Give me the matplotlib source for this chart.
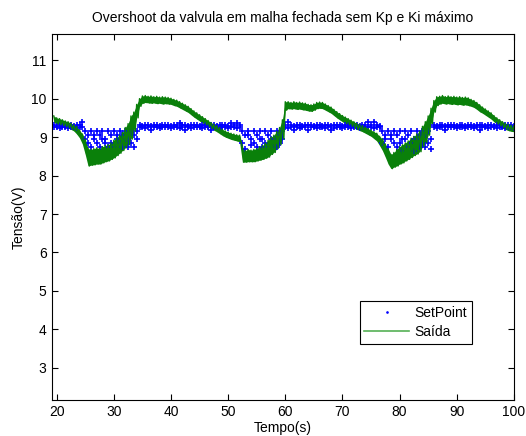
import matplotlib
matplotlib.use('Agg')
import matplotlib.pyplot as plt
from matplotlib.lines import Line2D
import numpy as np

# sample clock of the acquisition, 0.5 s per sample (19.5 s .. 100 s)
tempo = np.arange(19.5, 100.01, 0.5)

# Saida: upper and lower edge of the noisy output band, read per sample
saida_hi = [
    9.55, 9.50, 9.48, 9.45, 9.42, 9.40, 9.36, 9.32, 9.28, 9.18,
    9.08, 8.95, 8.70, 8.68, 8.70, 8.72, 8.70, 8.75, 8.78, 8.80,
    8.85, 8.92, 8.98, 9.05, 9.12, 9.25, 9.35, 9.55, 9.65, 9.85,
    10.00, 10.07, 10.08, 10.06, 10.07, 10.05, 10.06, 10.04, 10.05, 10.04,
    10.03, 10.01, 9.98, 9.96, 9.92, 9.88, 9.84, 9.80, 9.74, 9.68,
    9.63, 9.58, 9.53, 9.48, 9.43, 9.38, 9.34, 9.30, 9.25, 9.20,
    9.16, 9.13, 9.10, 9.08, 9.06, 9.05, 8.75, 8.65, 8.68, 8.66,
    8.68, 8.70, 8.75, 8.78, 8.85, 8.92, 9.00, 9.05, 9.15, 9.25,
    9.45, 9.92, 9.92, 9.90, 9.92, 9.90, 9.91, 9.89, 9.88, 9.85,
    9.84, 9.86, 9.90, 9.91, 9.90, 9.86, 9.82, 9.78, 9.72, 9.66,
    9.61, 9.56, 9.52, 9.48, 9.44, 9.40, 9.36, 9.33, 9.30, 9.26,
    9.22, 9.18, 9.14, 9.10, 9.02, 8.95, 8.82, 8.70, 8.55, 8.60,
    8.68, 8.75, 8.80, 8.85, 8.90, 8.97, 9.02, 9.08, 9.15, 9.28,
    9.40, 9.55, 9.75, 9.95, 10.05, 10.06, 10.08, 10.05, 10.07, 10.05,
    10.06, 10.04, 10.05, 10.03, 10.04, 10.02, 9.98, 9.95, 9.90, 9.84,
    9.78, 9.73, 9.68, 9.63, 9.56, 9.50, 9.45, 9.40, 9.36, 9.33,
    9.31, 9.30,
]
saida_lo = [
    9.38, 9.34, 9.32, 9.30, 9.27, 9.24, 9.20, 9.16, 9.08, 8.98,
    8.82, 8.55, 8.25, 8.27, 8.28, 8.30, 8.30, 8.33, 8.36, 8.38,
    8.42, 8.46, 8.52, 8.58, 8.65, 8.72, 8.80, 8.95, 9.15, 9.50,
    9.80, 9.88, 9.90, 9.89, 9.88, 9.89, 9.87, 9.88, 9.86, 9.87,
    9.86, 9.85, 9.82, 9.80, 9.76, 9.72, 9.68, 9.64, 9.58, 9.52,
    9.47, 9.42, 9.37, 9.32, 9.27, 9.22, 9.18, 9.14, 9.09, 9.04,
    9.00, 8.97, 8.94, 8.92, 8.90, 8.88, 8.35, 8.35, 8.36, 8.36,
    8.36, 8.38, 8.40, 8.42, 8.45, 8.48, 8.55, 8.60, 8.70, 8.80,
    8.95, 9.70, 9.74, 9.73, 9.74, 9.72, 9.73, 9.71, 9.70, 9.68,
    9.67, 9.70, 9.74, 9.75, 9.74, 9.70, 9.66, 9.62, 9.56, 9.50,
    9.45, 9.40, 9.36, 9.32, 9.28, 9.24, 9.20, 9.17, 9.14, 9.10,
    9.06, 9.02, 8.96, 8.90, 8.78, 8.65, 8.48, 8.30, 8.18, 8.22,
    8.25, 8.30, 8.33, 8.38, 8.42, 8.47, 8.52, 8.56, 8.62, 8.75,
    8.85, 9.05, 9.35, 9.65, 9.82, 9.86, 9.88, 9.86, 9.87, 9.85,
    9.86, 9.84, 9.85, 9.83, 9.84, 9.82, 9.80, 9.77, 9.72, 9.66,
    9.62, 9.57, 9.52, 9.47, 9.40, 9.34, 9.29, 9.24, 9.20, 9.17,
    9.15, 9.14,
]

# SetPoint: two readings per sample (quantized signal)
setpoint_a = [
    9.31, 9.30, 9.31, 9.31, 9.30, 9.31, 9.31, 9.30, 9.31, 9.31,
    9.38, 9.15, 9.05, 9.15, 8.95, 9.15, 9.05, 9.15, 8.95, 9.15,
    9.05, 9.15, 8.95, 9.15, 9.05, 9.15, 8.95, 9.15, 9.05, 9.15,
    9.31, 9.30, 9.31, 9.31, 9.30, 9.31, 9.31, 9.30, 9.31, 9.31,
    9.31, 9.30, 9.31, 9.31, 9.36, 9.31, 9.31, 9.30, 9.31, 9.31,
    9.31, 9.30, 9.31, 9.31, 9.30, 9.31, 9.31, 9.30, 9.31, 9.31,
    9.31, 9.30, 9.37, 9.31, 9.37, 9.31, 9.15, 9.05, 9.15, 8.95,
    9.15, 9.05, 9.15, 8.95, 9.15, 9.05, 9.15, 8.95, 9.15, 9.05,
    9.15, 9.31, 9.38, 9.31, 9.30, 9.31, 9.31, 9.30, 9.31, 9.31,
    9.31, 9.30, 9.31, 9.31, 9.30, 9.31, 9.31, 9.30, 9.31, 9.31,
    9.31, 9.30, 9.31, 9.31, 9.30, 9.31, 9.31, 9.30, 9.31, 9.31,
    9.38, 9.31, 9.38, 9.31, 9.30, 9.15, 9.05, 9.15, 8.95, 9.15,
    9.05, 9.15, 8.95, 9.15, 9.05, 9.15, 8.95, 9.15, 9.05, 9.15,
    9.05, 9.15, 8.95, 9.31, 9.30, 9.31, 9.31, 9.30, 9.31, 9.31,
    9.31, 9.30, 9.31, 9.31, 9.30, 9.31, 9.31, 9.30, 9.31, 9.31,
    9.31, 9.30, 9.31, 9.31, 9.30, 9.31, 9.31, 9.30, 9.31, 9.31,
    9.31, 9.30,
]
setpoint_b = [
    9.25, 9.25, 9.24, 9.25, 9.25, 9.24, 9.25, 9.25, 9.24, 9.25,
    9.25, 8.95, 8.85, 8.75, 9.05, 8.85, 8.75, 8.95, 8.85, 8.75,
    8.85, 8.75, 9.05, 8.85, 8.75, 8.95, 8.75, 8.85, 8.75, 8.95,
    9.25, 9.25, 9.24, 9.25, 9.18, 9.25, 9.25, 9.24, 9.25, 9.25,
    9.25, 9.24, 9.25, 9.25, 9.24, 9.25, 9.18, 9.25, 9.24, 9.25,
    9.25, 9.25, 9.24, 9.25, 9.25, 9.18, 9.25, 9.25, 9.24, 9.25,
    9.25, 9.24, 9.25, 9.25, 9.24, 9.25, 8.85, 8.70, 9.05, 8.80,
    8.85, 8.75, 8.95, 8.75, 8.85, 8.75, 8.95, 8.80, 8.75, 8.85,
    8.95, 9.25, 9.24, 9.25, 9.18, 9.25, 9.24, 9.25, 9.25, 9.18,
    9.25, 9.25, 9.24, 9.25, 9.25, 9.24, 9.25, 9.18, 9.24, 9.25,
    9.25, 9.24, 9.25, 9.25, 9.24, 9.25, 9.25, 9.24, 9.25, 9.25,
    9.25, 9.25, 9.24, 9.25, 9.25, 8.85, 8.95, 8.75, 9.05, 8.85,
    8.75, 8.85, 8.65, 8.95, 8.75, 8.85, 8.65, 8.95, 8.75, 8.85,
    8.75, 8.85, 8.70, 9.25, 9.24, 9.25, 9.25, 9.18, 9.25, 9.25,
    9.25, 9.24, 9.25, 9.25, 9.24, 9.25, 9.25, 9.24, 9.25, 9.18,
    9.25, 9.25, 9.24, 9.25, 9.25, 9.24, 9.25, 9.25, 9.24, 9.25,
    9.25, 9.24,
]

x_ticks = [20, 30, 40, 50, 60, 70, 80, 90, 100]
y_ticks = [3, 4, 5, 6, 7, 8, 9, 10, 11]

SP_COLOR = '#0000ff'
OUT_COLOR = '#0a800a'

plt.rcParams['font.family'] = ['Liberation Sans', 'DejaVu Sans']
plt.rcParams['font.size'] = 10

fig = plt.figure(figsize=(5.26, 4.36), dpi=100)
ax = fig.add_axes([0.099, 0.083, 0.878, 0.839])

# setpoint samples as small plus markers
for sp in (setpoint_a, setpoint_b):
    ax.plot(tempo, sp, linestyle='none', marker='+', markersize=4.5,
            markeredgewidth=1.2, color=SP_COLOR)

# noisy output: solid band between the edges, plus a trace that goes
# up to the top edge and down to the bottom edge for the ragged look
ax.fill_between(tempo, saida_lo, saida_hi, color=OUT_COLOR, linewidth=0)
t_out = np.ravel(np.column_stack([tempo, tempo + 0.25]))
v_out = np.ravel(np.column_stack([saida_hi, saida_lo]))
ax.plot(t_out, v_out, color=OUT_COLOR, linewidth=1.0)

ax.set_xlim(19.2, 100)
ax.set_ylim(2.17, 11.68)
ax.set_xticks(x_ticks)
ax.set_yticks(y_ticks)
ax.tick_params(direction='in', length=4, width=0.8, top=True, right=True,
               labelsize=10, colors='black', pad=4)
for spine in ax.spines.values():
    spine.set_linewidth(0.8)

ax.set_title('Overshoot da valvula em malha fechada sem Kp e Ki máximo', fontsize=10, pad=9)
ax.set_xlabel('Tempo(s)', fontsize=10, labelpad=1)
ax.set_ylabel('Tensão(V)', fontsize=10, labelpad=4)

handles = [
    Line2D([], [], linestyle='none', marker='.', markersize=1.8, color=SP_COLOR),
    Line2D([], [], color='#55b055', linewidth=1.2),
]
leg = ax.legend(handles, ['SetPoint', 'Saída'], loc='lower right',
                bbox_to_anchor=(0.909, 0.153), fancybox=False, framealpha=1,
                edgecolor='black', fontsize=10, handlelength=3.2,
                borderpad=0.35, labelspacing=0.35, handletextpad=0.4,
                borderaxespad=0)
leg.get_frame().set_linewidth(0.8)

fig.savefig('out.png', dpi=100)
